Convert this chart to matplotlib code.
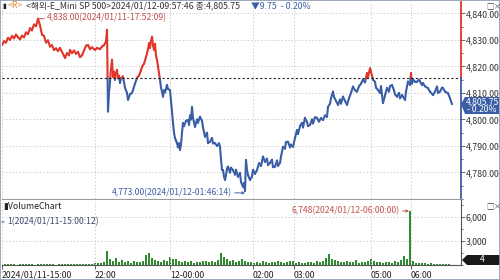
import numpy as np
import matplotlib
matplotlib.use('Agg')
import matplotlib.pyplot as plt
import matplotlib.transforms as mtransforms
from matplotlib.collections import LineCollection
from matplotlib.patches import Polygon, Rectangle
from matplotlib.ticker import FuncFormatter, MultipleLocator

plt.rcParams['font.family'] = ['Noto Sans CJK KR', 'DejaVu Sans']

# 가격 (bar index, price)
bar_idx = [2, 4, 6, 8, 10, 12, 14, 16, 18, 20, 22, 24, 26, 28, 30, 32, 34, 36, 38,
           40, 42, 44, 46, 48, 50, 52, 54, 56, 58, 60, 62, 64, 65, 67, 69, 70, 72, 74, 76,
           78, 80, 82, 84, 86, 88, 90, 92, 95, 97, 100, 102, 104, 106,
           107, 108, 109, 110, 111, 112, 113, 114, 115, 116, 117, 118, 119, 120, 121, 123,
           125, 127, 128, 130, 132, 133, 135, 137, 139, 141, 142, 144, 146, 147, 148, 149,
           150, 151, 152, 153, 154, 155, 156, 157, 158, 159, 160, 161, 162, 163, 164, 165,
           167, 168, 170, 171, 172, 173, 174, 175, 176, 177, 178, 179, 180, 181, 182, 183,
           184, 186, 188, 189, 190, 191, 192, 193, 194, 195, 197, 198, 200, 202, 203, 205,
           207, 208, 210, 212, 213, 215, 217, 219, 220, 221, 222, 223, 224, 225, 226, 227,
           228, 230, 231, 233, 235, 236, 238, 240, 241, 243, 244, 245, 246, 247, 248, 250,
           252, 253, 255, 257, 259, 261, 263, 265, 267, 268, 270, 272, 273, 275, 277, 278,
           280, 281, 283, 285, 286, 288, 290, 291, 293, 295, 297, 298, 300, 302, 303, 305,
           307, 308, 310, 312, 313, 315, 317, 319, 321, 323, 325, 327, 328, 330, 331, 333,
           334, 336, 338, 340, 341, 343, 345, 347, 349, 351, 353, 355, 357, 359, 361, 363,
           365, 367, 368, 370, 371, 373, 375, 376, 378, 380, 381, 383, 385, 387, 389, 390,
           392, 394, 395, 397, 399, 400, 402, 404, 405, 406, 408, 410, 411, 412, 413, 415,
           417, 419, 420, 422, 423, 425, 428, 430, 433, 435, 437, 438, 440, 442, 443, 445,
           448, 450, 452]
price = [4828.0, 4829.5, 4829.0, 4830.8, 4830.0, 4831.5, 4830.6, 4832.0, 4831.0, 4830.2,
         4831.6, 4831.0, 4832.8, 4832.2, 4834.4, 4833.6, 4835.8, 4835.2, 4838.0,
         4835.5, 4832.0, 4831.5, 4829.0, 4829.8, 4827.5, 4828.0, 4826.2, 4826.8, 4825.8,
         4827.0, 4825.5, 4824.0, 4823.2, 4825.0, 4824.2, 4826.2, 4825.0, 4826.0, 4824.8,
         4825.5, 4823.5, 4824.2, 4826.0, 4827.8, 4828.1, 4826.5, 4827.2, 4826.2, 4827.0,
         4826.5, 4827.5, 4828.0, 4829.4,
         4833.8, 4803.0, 4810.0, 4814.3, 4819.0, 4822.5, 4816.0, 4818.0, 4815.0, 4817.5,
         4818.7, 4815.5, 4816.5, 4813.8, 4815.5, 4816.2, 4812.0, 4810.0, 4807.4, 4809.5,
         4810.0, 4811.1, 4813.5, 4815.7, 4816.5, 4818.5, 4819.9, 4821.0, 4823.5, 4825.0,
         4826.5, 4828.8, 4827.0, 4829.5, 4831.2, 4828.0, 4826.2, 4828.5, 4824.0, 4822.5,
         4820.0, 4817.5, 4815.0, 4812.0, 4810.5, 4808.6, 4811.0, 4810.2, 4813.0, 4811.5,
         4811.1, 4807.0, 4803.0, 4798.7, 4795.0, 4793.0, 4792.0, 4791.1, 4789.5, 4791.0,
         4788.5, 4790.5, 4795.0, 4798.7, 4797.5, 4799.5, 4799.8, 4798.0, 4801.5, 4800.0,
         4804.7, 4800.5, 4799.0, 4797.2, 4800.0, 4798.8, 4801.0, 4799.5, 4797.0, 4793.5,
         4795.0, 4791.1, 4791.6, 4793.0, 4791.0, 4791.1, 4790.0, 4791.0, 4789.7, 4785.0,
         4781.0, 4780.9, 4778.5, 4777.2, 4779.0, 4781.5, 4782.2, 4780.0, 4781.8, 4780.9,
         4779.2, 4781.0, 4778.4, 4779.8, 4776.5, 4774.6, 4776.0, 4773.0, 4784.7, 4781.0,
         4779.0, 4777.2, 4778.5, 4781.0, 4779.5, 4780.9, 4783.5, 4782.5, 4786.0, 4784.0,
         4785.2, 4782.8, 4783.6, 4784.8, 4782.0, 4782.2, 4784.5, 4782.5, 4783.6, 4786.0,
         4789.7, 4789.0, 4791.5, 4791.6, 4789.5, 4790.5, 4789.7, 4793.0, 4796.0, 4794.5,
         4797.5, 4798.7, 4797.0, 4800.6, 4799.0, 4797.5, 4797.9, 4800.0, 4798.5, 4800.8,
         4800.6, 4799.2, 4800.5, 4799.8, 4801.5, 4801.0, 4804.7, 4806.0, 4808.0, 4810.5,
         4808.5, 4807.0, 4805.5, 4807.5, 4806.0, 4808.6, 4807.0, 4805.5, 4808.0, 4810.0,
         4812.4, 4811.0, 4810.5, 4812.5, 4813.5, 4815.0, 4814.0, 4817.5, 4816.0, 4819.3,
         4818.0, 4815.0, 4814.2, 4812.0, 4811.1, 4810.0, 4812.5, 4806.2, 4809.0, 4811.9,
         4810.5, 4812.5, 4813.0, 4811.0, 4809.5, 4808.6, 4810.0, 4808.0, 4809.2, 4808.0,
         4807.4, 4810.5, 4814.3, 4813.0, 4817.5, 4813.5, 4815.0, 4814.3, 4814.3, 4815.0,
         4814.3, 4813.0, 4813.7, 4812.5, 4811.8, 4810.5, 4809.2, 4810.5, 4812.4, 4810.0,
         4810.5, 4812.0, 4811.8, 4810.5, 4809.9, 4808.0, 4805.75]
prev_close = 4815.5

# 거래량 (3칸 간격 bar)
vol_idx = list(range(2, 453, 3))
volume = [60, 90, 70, 120, 80, 60, 100, 90, 70, 130, 80, 60, 110, 90, 150, 70, 80, 100,
          60, 120, 90, 140, 80, 100, 70, 130, 110, 90, 160, 120, 180,
          250, 300, 200, 400, 1750, 700, 500, 900, 400, 650, 350, 500, 300, 450, 400, 350,
          500, 1200, 1500, 900, 600, 500, 400, 600, 500, 1000, 700, 800, 500, 400, 500, 350,
          450, 300, 400, 350, 450, 500, 400, 450, 350, 600, 1500, 1000, 700, 500, 600, 400,
          500, 700, 450, 350, 400, 300, 350, 300, 450, 350, 300, 400, 350, 500, 400, 300,
          350, 450, 550, 300, 350, 250, 300, 400, 350, 300, 450, 350, 500, 900, 1400, 800,
          600, 450, 400, 350, 500, 400, 350, 600, 300, 400, 350, 500, 700, 450, 400, 350,
          300, 400, 350, 300, 450, 400, 600, 1100, 800, 6748, 500, 300, 250, 200, 250, 150,
          200, 120, 150, 100, 120, 80, 100, 60]

time_pos = [2, 95, 170, 253, 294, 371, 411]
time_lbl = ['2024/01/11-15:00', '22:00', '12-00:00', '02:00', '03:00', '05:00', '06:00']

RED = '#e0352b'
BLUE = '#3a5ea6'
GRID = '#cfcfcf'

W, H = 500, 280
fig = plt.figure(figsize=(5, 2.8), dpi=100)
fig.patch.set_facecolor('white')

def fx(px):
    return px / W

def fy(py):
    return 1 - py / H

ax = fig.add_axes([fx(2), fy(199), fx(461) - fx(2), fy(2) - fy(199)])
axv = fig.add_axes([fx(2), fy(265), fx(461) - fx(2), fy(200) - fy(265)])

# 가격선: 전일 종가 위는 빨강, 아래는 파랑
segs, cols = [], []
for i in range(len(bar_idx) - 1):
    x0, y0, x1, y1 = bar_idx[i], price[i], bar_idx[i + 1], price[i + 1]
    a0, a1 = y0 >= prev_close, y1 >= prev_close
    if a0 == a1:
        segs.append([(x0, y0), (x1, y1)])
        cols.append(RED if a0 else BLUE)
    else:
        t = (prev_close - y0) / (y1 - y0)
        xm = x0 + t * (x1 - x0)
        segs.append([(x0, y0), (xm, prev_close)])
        cols.append(RED if a0 else BLUE)
        segs.append([(xm, prev_close), (x1, y1)])
        cols.append(RED if a1 else BLUE)
ax.add_collection(LineCollection(segs, colors=cols, linewidths=1.5, capstyle='round',
                                 joinstyle='round'))

ax.axhline(prev_close, color='#222222', lw=0.8, ls=(0, (2, 2)))

ax.set_xlim(2, 461)
ax.set_ylim(4770, 4844.3)
ax.yaxis.tick_right()
ax.set_yticks(np.arange(4780, 4841, 10))
ax.yaxis.set_minor_locator(MultipleLocator(5))
ax.yaxis.set_major_formatter(FuncFormatter(lambda v, p: f'{v:,.2f}'))
ax.tick_params(axis='y', which='major', length=3, width=0.6, color='#555555',
               labelsize=6.3, labelcolor='#333333', pad=0.5)
ax.tick_params(axis='y', which='minor', length=1.5, width=0.6, color='#555555')
ax.set_xticks(time_pos)
ax.tick_params(axis='x', length=0, labelbottom=False)
ax.grid(True, color=GRID, ls=(0, (1.5, 2)), lw=0.7)
for s in ['top', 'left', 'right']:
    ax.spines[s].set_visible(False)
ax.spines['bottom'].set_color('#9a9a9a')
ax.spines['bottom'].set_linewidth(0.8)

# 오른쪽 축선 색
tr = mtransforms.blended_transform_factory(ax.transAxes, ax.transData)
ax.plot([1, 1], [prev_close, 4844.3], transform=tr, color=RED, lw=1.3, clip_on=False)
ax.plot([1, 1], [4770, prev_close], transform=tr, color=BLUE, lw=1.3, clip_on=False)

# 최고/최저 표시
ax.annotate('4,838.00(2024/01/11-17:52:09)', xy=(38, 4838), xytext=(47, 4838.4),
            fontsize=6.2, color='#c0504d', va='center', ha='left',
            arrowprops=dict(arrowstyle='-', color='#c0504d', lw=0.7, shrinkA=0, shrinkB=0))
ax.annotate('4,773.00(2024/01/12-01:46:14)', xy=(245, 4772.3), xytext=(232, 4772.3),
            fontsize=6.2, color=BLUE, va='center', ha='right',
            arrowprops=dict(arrowstyle='->', color=BLUE, lw=0.7, shrinkA=0, shrinkB=0,
                            mutation_scale=4))

# 거래량
axv.bar(vol_idx, volume, width=2.2, color='#2e8b2e', edgecolor='none')
axv.set_xlim(2, 461)
axv.set_ylim(0, 8125)
axv.yaxis.tick_right()
axv.set_yticks([3000, 6000])
axv.yaxis.set_minor_locator(MultipleLocator(1500))
axv.yaxis.set_major_formatter(FuncFormatter(lambda v, p: f'{v:,.0f}'))
axv.tick_params(axis='y', which='major', length=3, width=0.6, color='#555555',
                labelsize=6.3, labelcolor='#333333', pad=0.5)
axv.tick_params(axis='y', which='minor', length=1.5, width=0.6, color='#555555')
axv.set_xticks(time_pos)
axv.set_xticklabels(time_lbl)
axv.tick_params(axis='x', length=3, width=0.6, color='#444444', labelsize=6.3,
                labelcolor='#222222', pad=1)
for lbl in axv.get_xticklabels():
    lbl.set_horizontalalignment('left')
axv.grid(True, color=GRID, ls=(0, (1.5, 2)), lw=0.7)
for s in ['top', 'left']:
    axv.spines[s].set_visible(False)
axv.spines['right'].set_color('#555555')
axv.spines['right'].set_linewidth(0.8)
axv.spines['bottom'].set_color('#555555')
axv.spines['bottom'].set_linewidth(0.8)

axv.annotate('6,748(2024/01/12-06:00:00)', xy=(409, 6748), xytext=(400, 6748),
             fontsize=6.2, color='#c0504d', va='center', ha='right',
             arrowprops=dict(arrowstyle='->', color='#c0504d', lw=0.7, shrinkA=0, shrinkB=0,
                             mutation_scale=4))
axv.annotate('1(2024/01/11-15:00:12)', xy=(2, 5375), xytext=(7, 5375),
             fontsize=6.2, color='#3b4a6b', va='center', ha='left',
             arrowprops=dict(arrowstyle='-', color='#3b4a6b', lw=0.7, shrinkA=0, shrinkB=0))

# 헤더
fig.text(fx(2), fy(6), '▮', fontsize=5, color='#222222', va='center')
fig.text(fx(8), fy(6), '<R>', fontsize=6.3, color='#e08a3c', va='center')
fig.text(fx(26), fy(6), '<해외-E_Mini SP 500>2024/01/12-09:57:46 종:4,805.75',
         fontsize=6.3, color='#333333', va='center')
fig.text(fx(251), fy(6), '▼9.75  - 0.20%', fontsize=6.3, color=BLUE, va='center')
fig.text(fx(3), fy(206), '▮VolumeChart', fontsize=6.3, color='#222222', va='center')
for py in (6, 206):
    fig.text(fx(486), fy(py), '□×', fontsize=5.5, color='#444444', va='center')

# 현재가 박스
px_y = 104
fig.patches.append(Polygon([(fx(461), fy(px_y)), (fx(465), fy(97)), (fx(499), fy(97)),
                            (fx(499), fy(114)), (fx(465), fy(114))], closed=True,
                           transform=fig.transFigure, facecolor=BLUE, edgecolor='none'))
fig.text(fx(482), fy(101.5), '4,805.75', fontsize=6.2, color='white', ha='center', va='center')
fig.text(fx(482), fy(109.5), '- 0.20%', fontsize=6.2, color='white', ha='center', va='center')

# 현재 거래량 박스
fig.patches.append(Polygon([(fx(462), fy(260)), (fx(467), fy(255)), (fx(500), fy(255)),
                            (fx(500), fy(265)), (fx(467), fy(265))], closed=True,
                           transform=fig.transFigure, facecolor='#1a1a1a', edgecolor='none'))
fig.text(fx(482), fy(260), '4', fontsize=6.2, color='white', ha='center', va='center')

# 바깥 테두리
fig.patches.append(Rectangle((0, 0), 1, 1, transform=fig.transFigure, fill=False,
                             edgecolor='#8a99b3', lw=1.2))

fig.savefig('out.png', dpi=100)
